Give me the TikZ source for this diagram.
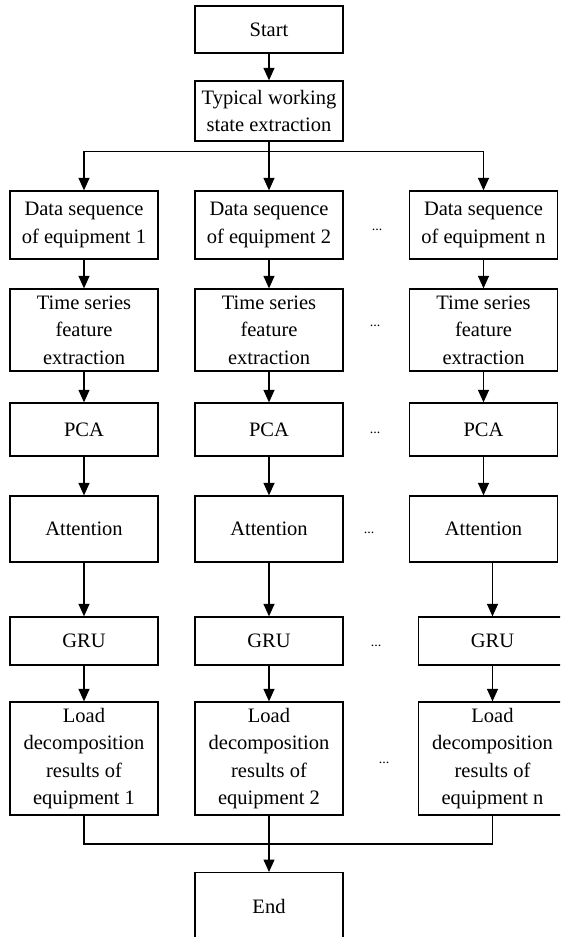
\documentclass[tikz,border=0pt]{standalone}
\usepackage{fontspec}
\setmainfont{Liberation Serif}
\usetikzlibrary{arrows.meta}

\tikzset{
  box/.style={draw, line width=1.3pt, minimum width=148pt, inner sep=0pt,
    align=center, font=\fontsize{20.5}{27.5}\selectfont},
  link/.style={line width=1.3pt},
  flow/.style={link, -{Triangle[length=12.5pt,width=11pt]}},
  gap/.style={font=\fontsize{14}{16}\selectfont, inner sep=0pt}
}

\begin{document}
\begin{tikzpicture}[x=1pt,y=-1pt]
\useasboundingbox (0,0) rectangle (560,937);
\clip (0,0) rectangle (560,937);

% top of the flow
\node[box, minimum height=47pt] (start) at (269,29.5) {Start};
\node[box, minimum height=60pt] (typ) at (269,111) {Typical working\\state extraction};
\coordinate (split) at (269,151.5);

% data sequences
\node[box, minimum height=68pt] (d1) at (84,225) {Data sequence\\of equipment 1};
\node[box, minimum height=68pt] (d2) at (269,225) {Data sequence\\of equipment 2};
\node[box, minimum height=68pt] (dn) at (483.5,225) {Data sequence\\of equipment n};

% time series features
\node[box, minimum height=82pt] (t1) at (84,330) {Time series\\feature\\extraction};
\node[box, minimum height=82pt] (t2) at (269,330) {Time series\\feature\\extraction};
\node[box, minimum height=82pt] (tn) at (483.5,330) {Time series\\feature\\extraction};

% PCA
\node[box, minimum height=53pt] (p1) at (84,429.5) {PCA};
\node[box, minimum height=53pt] (p2) at (269,429.5) {PCA};
\node[box, minimum height=53pt] (pn) at (483.5,429.5) {PCA};

% attention
\node[box, minimum height=66pt] (a1) at (84,529) {Attention};
\node[box, minimum height=66pt] (a2) at (269,529) {Attention};
\node[box, minimum height=66pt] (an) at (483.5,529) {Attention};

% GRU
\node[box, minimum height=48pt] (g1) at (84,641) {GRU};
\node[box, minimum height=48pt] (g2) at (269,641) {GRU};
\node[box, minimum height=48pt] (gn) at (492.5,641) {GRU};

% results
\node[box, minimum height=113pt] (l1) at (84,758.5) {Load\\decomposition\\results of\\equipment 1};
\node[box, minimum height=113pt] (l2) at (269,758.5) {Load\\decomposition\\results of\\equipment 2};
\node[box, minimum height=113pt] (ln) at (492.5,758.5) {Load\\decomposition\\results of\\equipment n};

\coordinate (merge) at (269,844);
\node[box, minimum height=68pt, anchor=north] (end) at (269,872) {End};

% ellipses between columns
\node[gap] (e1) at (377,230) {...};
\node[gap] (e2) at (375,326) {...};
\node[gap] (e3) at (375,433) {...};
\node[gap] (e4) at (369,533) {...};
\node[gap] (e5) at (376,646) {...};
\node[gap] (e6) at (384,763) {...};

% connectors
\draw[flow] (start) -- (typ);
\draw[link] (typ) -- (split);
\draw[flow] (split) -| (d1);
\draw[flow] (split) -- (d2);
\draw[flow] (split) -| (dn);

\foreach \c in {1,2,n}{
  \draw[flow] (d\c) -- (t\c);
  \draw[flow] (t\c) -- (p\c);
  \draw[flow] (p\c) -- (a\c);
}
\draw[flow] (a1) -- (g1);
\draw[flow] (a2) -- (g2);
\draw[flow] (an.south -| gn) -- (gn);
\draw[flow] (g1) -- (l1);
\draw[flow] (g2) -- (l2);
\draw[flow] (gn) -- (ln);

\draw[link] (l1) |- (merge);
\draw[link] (ln) |- (merge);
\draw[flow] (l2) -- (end);
\end{tikzpicture}
\end{document}
